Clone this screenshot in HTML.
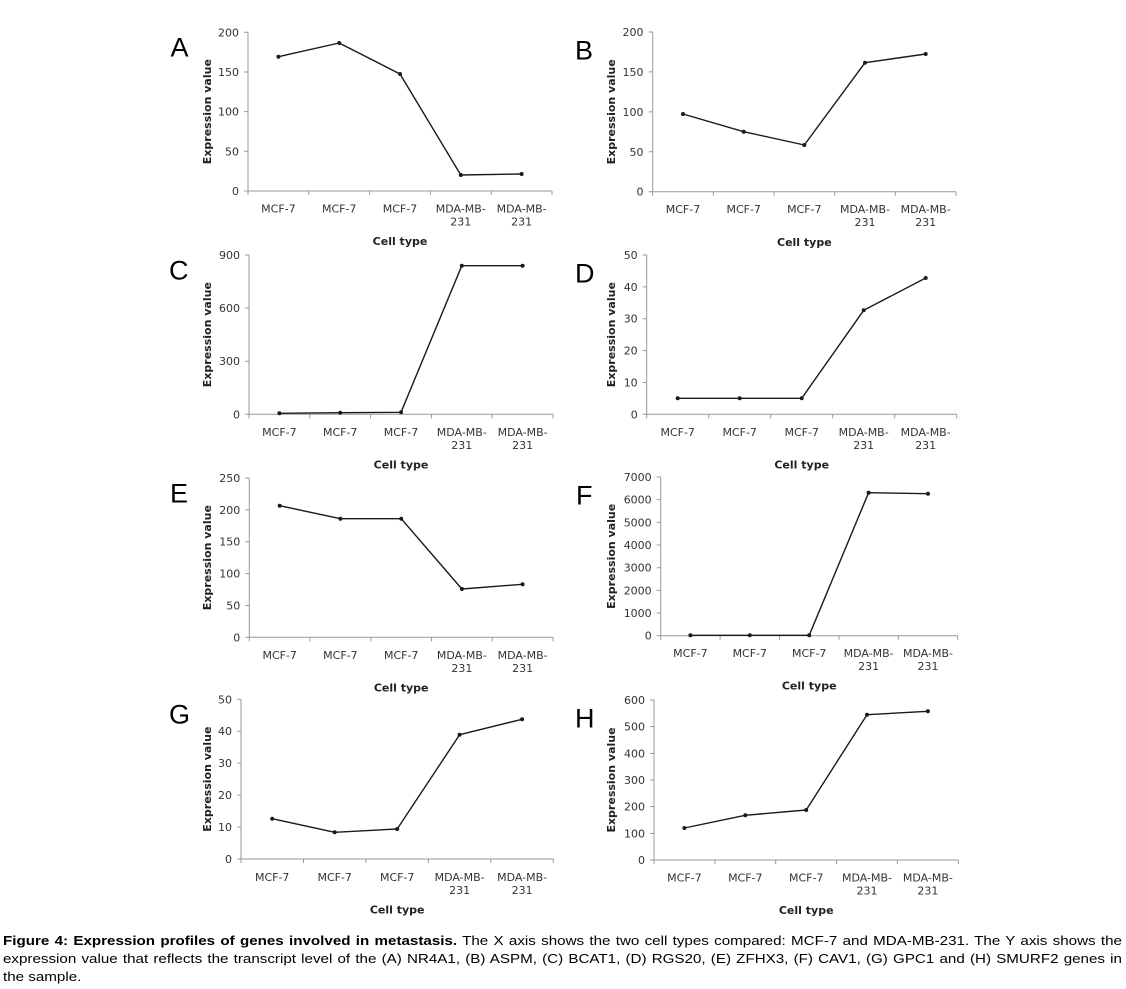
<!DOCTYPE html>
<html>
<head>
<meta charset="utf-8">
<style>
html,body{margin:0;padding:0;background:#fff;}
body{width:1126px;height:989px;position:relative;overflow:hidden;}
svg{position:absolute;left:0;top:0;}
.ax{stroke:#999;stroke-width:1;fill:none;}
.ln{stroke:#1a1a1a;stroke-width:1.4;fill:none;stroke-linejoin:round;}
.pt{fill:#1a1a1a;}
.tk{font-family:"DejaVu Sans",Verdana,sans-serif;font-size:11px;fill:#333;}
.ye{text-anchor:end;}
.xm{text-anchor:middle;}
.tt{font-family:"DejaVu Sans",Verdana,sans-serif;font-weight:bold;font-size:11px;fill:#222;text-anchor:middle;}
.lt{font-family:"Liberation Sans",Arial,sans-serif;font-size:27px;fill:#000;}
#cap{position:absolute;left:3px;top:931.5px;width:960px;font-family:"Liberation Sans",Arial,sans-serif;font-size:13px;line-height:18px;color:#000;transform:scaleX(1.1656);transform-origin:0 0;}
#cap .j{text-align:justify;text-align-last:justify;}
</style>
</head>
<body>
<svg width="1126" height="989" viewBox="0 0 1126 989" xmlns="http://www.w3.org/2000/svg">

<!-- Panel A -->
<text class="lt" x="170.5" y="56.7">A</text>
<path class="ax" d="M248,32.3V191H552 M244,191H248 M244,151.3H248 M244,111.65H248 M244,71.98H248 M244,32.3H248 M248,191V195 M308.8,191V195 M369.6,191V195 M430.4,191V195 M491.2,191V195 M552,191V195"/>
<polyline class="ln" points="278.4,56.7 339.2,43 400,74 460.8,175 521.6,174"/>
<g class="pt"><circle cx="278.4" cy="56.7" r="2"/><circle cx="339.2" cy="43" r="2"/><circle cx="400" cy="74" r="2"/><circle cx="460.8" cy="175" r="2"/><circle cx="521.6" cy="174" r="2"/></g>
<g class="tk ye"><text x="239" y="195">0</text><text x="239" y="155.3">50</text><text x="239" y="115.7">100</text><text x="239" y="76">150</text><text x="239" y="36.3">200</text></g>
<g class="tk xm"><text x="278.4" y="212.5">MCF-7</text><text x="339.2" y="212.5">MCF-7</text><text x="400" y="212.5">MCF-7</text><text x="460.8" y="212.5">MDA-MB-</text><text x="521.6" y="212.5">MDA-MB-</text><text x="460.8" y="225.5">231</text><text x="521.6" y="225.5">231</text></g>
<text class="tt" x="400" y="245">Cell type</text>
<text class="tt" transform="translate(211,111.65) rotate(-90)">Expression value</text>

<!-- Panel B -->
<text class="lt" x="575" y="59.3">B</text>
<path class="ax" d="M652.7,32V191.7H956 M648.7,191.7H652.7 M648.7,151.8H652.7 M648.7,111.85H652.7 M648.7,71.9H652.7 M648.7,32H652.7 M652.7,191.7V195.7 M713.4,191.7V195.7 M774,191.7V195.7 M834.7,191.7V195.7 M895.3,191.7V195.7 M956,191.7V195.7"/>
<polyline class="ln" points="683,114 743.7,131.7 804.3,145 865,62.7 925.7,54"/>
<g class="pt"><circle cx="683" cy="114" r="2"/><circle cx="743.7" cy="131.7" r="2"/><circle cx="804.3" cy="145" r="2"/><circle cx="865" cy="62.7" r="2"/><circle cx="925.7" cy="54" r="2"/></g>
<g class="tk ye"><text x="643.5" y="195.7">0</text><text x="643.5" y="155.8">50</text><text x="643.5" y="115.9">100</text><text x="643.5" y="75.9">150</text><text x="643.5" y="36">200</text></g>
<g class="tk xm"><text x="683" y="213.2">MCF-7</text><text x="743.7" y="213.2">MCF-7</text><text x="804.3" y="213.2">MCF-7</text><text x="865" y="213.2">MDA-MB-</text><text x="925.7" y="213.2">MDA-MB-</text><text x="865" y="226.2">231</text><text x="925.7" y="226.2">231</text></g>
<text class="tt" x="804.35" y="246">Cell type</text>
<text class="tt" transform="translate(615,111.85) rotate(-90)">Expression value</text>

<!-- Panel C -->
<text class="lt" x="169" y="279.3">C</text>
<path class="ax" d="M249,255V414.3H553 M245,414.3H249 M245,361.2H249 M245,308.1H249 M245,255H249 M249,414.3V418.3 M309.8,414.3V418.3 M370.6,414.3V418.3 M431.4,414.3V418.3 M492.2,414.3V418.3 M553,414.3V418.3"/>
<polyline class="ln" points="279.4,413.3 340.2,412.7 401,412.3 461.8,265.7 522.6,265.7"/>
<g class="pt"><circle cx="279.4" cy="413.3" r="2"/><circle cx="340.2" cy="412.7" r="2"/><circle cx="401" cy="412.3" r="2"/><circle cx="461.8" cy="265.7" r="2"/><circle cx="522.6" cy="265.7" r="2"/></g>
<g class="tk ye"><text x="240" y="418.3">0</text><text x="240" y="365.2">300</text><text x="240" y="312.1">600</text><text x="240" y="259">900</text></g>
<g class="tk xm"><text x="279.4" y="435.8">MCF-7</text><text x="340.2" y="435.8">MCF-7</text><text x="401" y="435.8">MCF-7</text><text x="461.8" y="435.8">MDA-MB-</text><text x="522.6" y="435.8">MDA-MB-</text><text x="461.8" y="448.8">231</text><text x="522.6" y="448.8">231</text></g>
<text class="tt" x="401" y="468.3">Cell type</text>
<text class="tt" transform="translate(211,334.65) rotate(-90)">Expression value</text>

<!-- Panel D -->
<text class="lt" x="575" y="282.3">D</text>
<path class="ax" d="M646.7,255V414.3H956.7 M642.7,414.3H646.7 M642.7,382.44H646.7 M642.7,350.58H646.7 M642.7,318.72H646.7 M642.7,286.86H646.7 M642.7,255H646.7 M646.7,414.3V418.3 M708.7,414.3V418.3 M770.7,414.3V418.3 M832.7,414.3V418.3 M894.7,414.3V418.3 M956.7,414.3V418.3"/>
<polyline class="ln" points="677.7,398.3 739.7,398.3 801.7,398.3 863.7,310.3 925.7,278"/>
<g class="pt"><circle cx="677.7" cy="398.3" r="2"/><circle cx="739.7" cy="398.3" r="2"/><circle cx="801.7" cy="398.3" r="2"/><circle cx="863.7" cy="310.3" r="2"/><circle cx="925.7" cy="278" r="2"/></g>
<g class="tk ye"><text x="637.7" y="418.3">0</text><text x="637.7" y="386.4">10</text><text x="637.7" y="354.6">20</text><text x="637.7" y="322.7">30</text><text x="637.7" y="290.9">40</text><text x="637.7" y="259">50</text></g>
<g class="tk xm"><text x="677.7" y="435.8">MCF-7</text><text x="739.7" y="435.8">MCF-7</text><text x="801.7" y="435.8">MCF-7</text><text x="863.7" y="435.8">MDA-MB-</text><text x="925.7" y="435.8">MDA-MB-</text><text x="863.7" y="448.8">231</text><text x="925.7" y="448.8">231</text></g>
<text class="tt" x="801.7" y="468.3">Cell type</text>
<text class="tt" transform="translate(615,334.65) rotate(-90)">Expression value</text>

<!-- Panel E -->
<text class="lt" x="170" y="502.3">E</text>
<path class="ax" d="M249.3,478V637.3H553 M245.3,637.3H249.3 M245.3,605.44H249.3 M245.3,573.58H249.3 M245.3,541.72H249.3 M245.3,509.86H249.3 M245.3,478H249.3 M249.3,637.3V641.3 M310,637.3V641.3 M370.8,637.3V641.3 M431.5,637.3V641.3 M492.3,637.3V641.3 M553,637.3V641.3"/>
<polyline class="ln" points="279.7,505.7 340.4,518.7 401.2,518.7 461.9,589 522.6,584.3"/>
<g class="pt"><circle cx="279.7" cy="505.7" r="2"/><circle cx="340.4" cy="518.7" r="2"/><circle cx="401.2" cy="518.7" r="2"/><circle cx="461.9" cy="589" r="2"/><circle cx="522.6" cy="584.3" r="2"/></g>
<g class="tk ye"><text x="240.3" y="641.3">0</text><text x="240.3" y="609.4">50</text><text x="240.3" y="577.6">100</text><text x="240.3" y="545.7">150</text><text x="240.3" y="513.9">200</text><text x="240.3" y="482">250</text></g>
<g class="tk xm"><text x="279.7" y="658.8">MCF-7</text><text x="340.4" y="658.8">MCF-7</text><text x="401.2" y="658.8">MCF-7</text><text x="461.9" y="658.8">MDA-MB-</text><text x="522.6" y="658.8">MDA-MB-</text><text x="461.9" y="671.8">231</text><text x="522.6" y="671.8">231</text></g>
<text class="tt" x="401.15" y="691.3">Cell type</text>
<text class="tt" transform="translate(211,557.65) rotate(-90)">Expression value</text>

<!-- Panel F -->
<text class="lt" x="576" y="504.3">F</text>
<path class="ax" d="M660.7,477V635.7H957.7 M656.7,635.7H660.7 M656.7,613.03H660.7 M656.7,590.36H660.7 M656.7,567.69H660.7 M656.7,545.02H660.7 M656.7,522.35H660.7 M656.7,499.68H660.7 M656.7,477H660.7 M660.7,635.7V639.7 M720.1,635.7V639.7 M779.5,635.7V639.7 M838.9,635.7V639.7 M898.3,635.7V639.7 M957.7,635.7V639.7"/>
<polyline class="ln" points="690.4,635.3 749.8,635.3 809.2,635.3 868.6,492.7 928,493.7"/>
<g class="pt"><circle cx="690.4" cy="635.3" r="2"/><circle cx="749.8" cy="635.3" r="2"/><circle cx="809.2" cy="635.3" r="2"/><circle cx="868.6" cy="492.7" r="2"/><circle cx="928" cy="493.7" r="2"/></g>
<g class="tk ye"><text x="651.7" y="639.7">0</text><text x="651.7" y="617">1000</text><text x="651.7" y="594.4">2000</text><text x="651.7" y="571.7">3000</text><text x="651.7" y="549">4000</text><text x="651.7" y="526.4">5000</text><text x="651.7" y="503.7">6000</text><text x="651.7" y="481">7000</text></g>
<g class="tk xm"><text x="690.4" y="657.2">MCF-7</text><text x="749.8" y="657.2">MCF-7</text><text x="809.2" y="657.2">MCF-7</text><text x="868.6" y="657.2">MDA-MB-</text><text x="928" y="657.2">MDA-MB-</text><text x="868.6" y="670.2">231</text><text x="928" y="670.2">231</text></g>
<text class="tt" x="809.2" y="689.7">Cell type</text>
<text class="tt" transform="translate(615,556.35) rotate(-90)">Expression value</text>

<!-- Panel G -->
<text class="lt" x="169" y="723.3">G</text>
<path class="ax" d="M241,699.3V859H553.3 M237,859H241 M237,827.06H241 M237,795.12H241 M237,763.18H241 M237,731.24H241 M237,699.3H241 M241,859V863 M303.5,859V863 M365.9,859V863 M428.4,859V863 M490.8,859V863 M553.3,859V863"/>
<polyline class="ln" points="272.2,818.7 334.7,832.3 397.2,829 459.6,734.7 522.1,719.3"/>
<g class="pt"><circle cx="272.2" cy="818.7" r="2"/><circle cx="334.7" cy="832.3" r="2"/><circle cx="397.2" cy="829" r="2"/><circle cx="459.6" cy="734.7" r="2"/><circle cx="522.1" cy="719.3" r="2"/></g>
<g class="tk ye"><text x="232" y="863">0</text><text x="232" y="831.1">10</text><text x="232" y="799.1">20</text><text x="232" y="767.2">30</text><text x="232" y="735.2">40</text><text x="232" y="703.3">50</text></g>
<g class="tk xm"><text x="272.2" y="881">MCF-7</text><text x="334.7" y="881">MCF-7</text><text x="397.2" y="881">MCF-7</text><text x="459.6" y="881">MDA-MB-</text><text x="522.1" y="881">MDA-MB-</text><text x="459.6" y="894">231</text><text x="522.1" y="894">231</text></g>
<text class="tt" x="397.15" y="913.5">Cell type</text>
<text class="tt" transform="translate(211,779.15) rotate(-90)">Expression value</text>

<!-- Panel H -->
<text class="lt" x="575" y="727.3">H</text>
<path class="ax" d="M654,700V860H958.3 M650,860H654 M650,833.33H654 M650,806.67H654 M650,780H654 M650,753.33H654 M650,726.67H654 M650,700H654 M654,860V864 M714.9,860V864 M775.7,860V864 M836.6,860V864 M897.4,860V864 M958.3,860V864"/>
<polyline class="ln" points="684.4,828 745.3,815.3 806.2,810 867,714.7 927.9,711.3"/>
<g class="pt"><circle cx="684.4" cy="828" r="2"/><circle cx="745.3" cy="815.3" r="2"/><circle cx="806.2" cy="810" r="2"/><circle cx="867" cy="714.7" r="2"/><circle cx="927.9" cy="711.3" r="2"/></g>
<g class="tk ye"><text x="645" y="864">0</text><text x="645" y="837.3">100</text><text x="645" y="810.7">200</text><text x="645" y="784">300</text><text x="645" y="757.3">400</text><text x="645" y="730.7">500</text><text x="645" y="704">600</text></g>
<g class="tk xm"><text x="684.4" y="881.5">MCF-7</text><text x="745.3" y="881.5">MCF-7</text><text x="806.2" y="881.5">MCF-7</text><text x="867" y="881.5">MDA-MB-</text><text x="927.9" y="881.5">MDA-MB-</text><text x="867" y="894.5">231</text><text x="927.9" y="894.5">231</text></g>
<text class="tt" x="806.2" y="914">Cell type</text>
<text class="tt" transform="translate(615,780) rotate(-90)">Expression value</text>

</svg>

<div id="cap">
<div class="j"><b>Figure 4: Expression profiles of genes involved in metastasis.</b> The X axis shows the two cell types compared: MCF-7 and MDA-MB-231. The Y axis shows the</div>
<div class="j">expression value that reflects the transcript level of the (A) NR4A1, (B) ASPM, (C) BCAT1, (D) RGS20, (E) ZFHX3, (F) CAV1, (G) GPC1 and (H) SMURF2 genes in</div>
<div>the sample.</div>
</div>
</body>
</html>
